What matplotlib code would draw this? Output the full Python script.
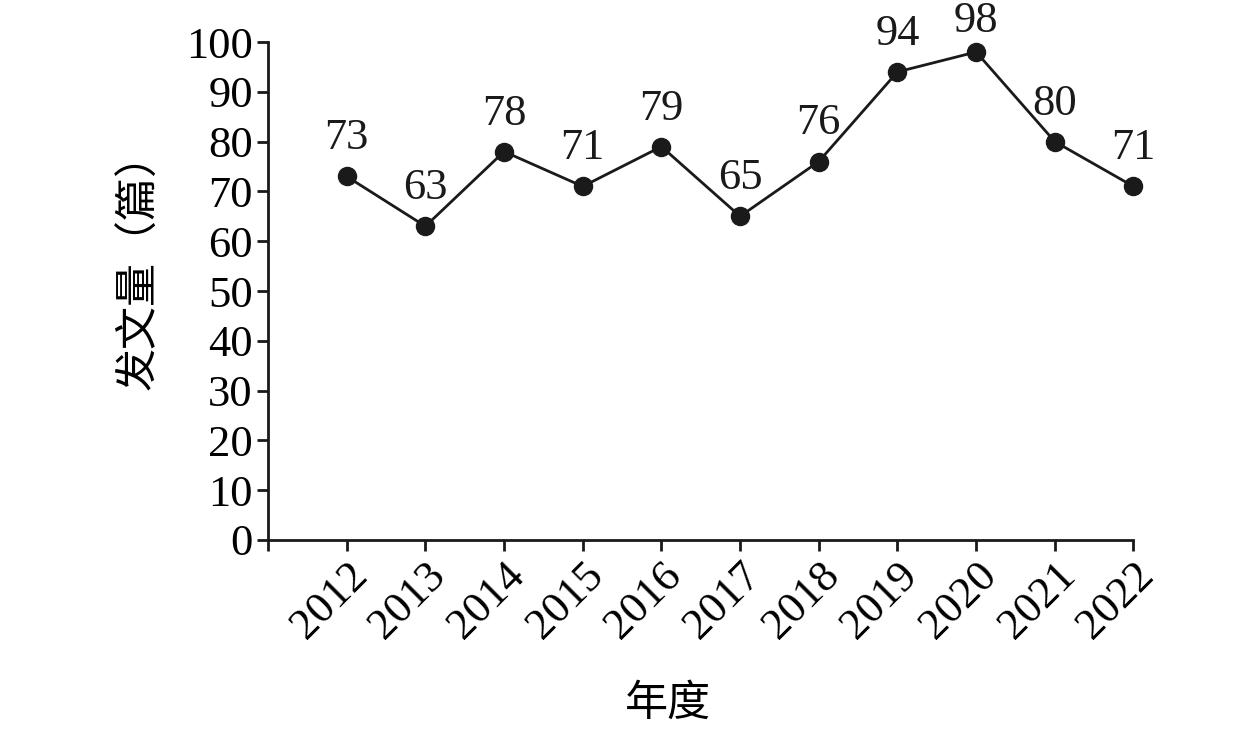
import matplotlib.pyplot as plt
import matplotlib.transforms as mtransforms

# annual publication counts
years = [2012, 2013, 2014, 2015, 2016, 2017, 2018, 2019, 2020, 2021, 2022]
counts = [73, 63, 78, 71, 79, 65, 76, 94, 98, 80, 71]
y_ticks = [0, 10, 20, 30, 40, 50, 60, 70, 80, 90, 100]

plt.rcParams['font.family'] = ['Liberation Serif', 'Noto Sans CJK SC', 'DejaVu Sans']

fig = plt.figure(figsize=(12.59, 7.32), dpi=100)
ax = fig.add_axes([0.2129, 0.2623, 0.6874, 0.6803])

ax.plot(years, counts, color='#1a1a1a', lw=2.0, marker='o', ms=13, mfc='#1a1a1a', mec='#1a1a1a',
        clip_on=False, zorder=3)

for x, y in zip(years, counts):
    # the top label gets squeezed down a bit so it stays inside the figure
    dy = 8 if y > 95 else 13
    ax.annotate(str(y), (x, y), xytext=(0, dy), textcoords='offset points',
                ha='center', va='bottom', fontsize=32, color='#1a1a1a')

ax.set_xlim(2011, 2022)
ax.set_ylim(0, 100)
ax.set_xticks([2011] + years)
ax.set_xticklabels([''] + [str(y) for y in years], rotation=45, ha='right',
                   rotation_mode='anchor', fontsize=32)
ax.set_yticks(y_ticks)
ax.set_yticklabels([str(v) for v in y_ticks], fontsize=32)

# nudge rotated labels so they sit under the ticks
offset = mtransforms.ScaledTranslation(0.2, 0.0, fig.dpi_scale_trans)
for lbl in ax.get_xticklabels():
    lbl.set_transform(lbl.get_transform() + offset)

for s in ['top', 'right']:
    ax.spines[s].set_visible(False)
for s in ['left', 'bottom']:
    ax.spines[s].set_linewidth(2.0)
    ax.spines[s].set_color('#1a1a1a')
ax.tick_params(direction='out', length=8, width=2.0, color='#1a1a1a', pad=3)

ax.set_xlabel('年度', fontsize=31, family=['Noto Sans CJK SC'])
ax.set_ylabel('发文量（篇）', fontsize=31, family=['Noto Sans CJK SC'])
ax.xaxis.set_label_coords(0.462, -0.285)
ax.yaxis.set_label_coords(-0.123, 0.56)

fig.savefig('out.png', dpi=100)
